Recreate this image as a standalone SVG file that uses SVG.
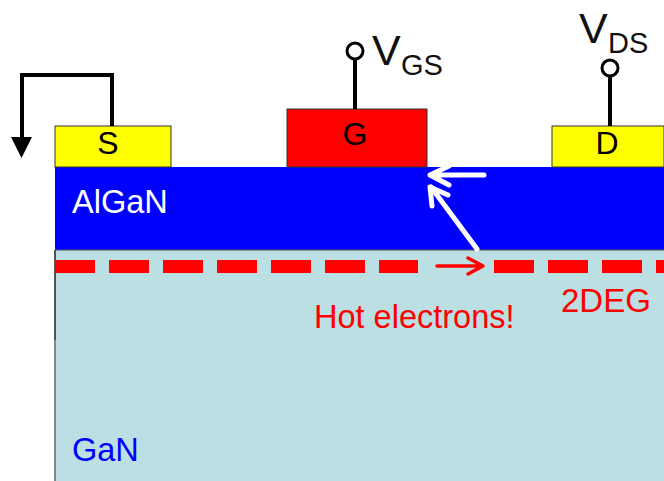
<svg xmlns="http://www.w3.org/2000/svg" width="664" height="481" viewBox="0 0 664 481">
<style>
text{font-family:"Liberation Sans",Arial,sans-serif}
.wire{fill:none;stroke:#000;stroke-width:4}
.term{fill:#fff;stroke:#000;stroke-width:3}
.layer{stroke:none}
.contact{stroke:#333;stroke-width:1}
.dash{fill:#f00}
.hot{fill:none;stroke:#f00;stroke-width:3.5;stroke-linecap:round;stroke-linejoin:round}
.white{fill:none;stroke:#fff;stroke-width:5;stroke-linecap:round;stroke-linejoin:round}
</style>
<g id="gan">
<rect class="layer" x="55" y="250" width="609" height="231" fill="#bbdfe3"/>
<path d="M55 250V340" stroke="#222" stroke-width="1.500" fill="none"/>
<path d="M55 340V481" stroke="#666" stroke-width="1.500" fill="none"/>
<text x="72" y="461" font-size="32.500" fill="#00f">GaN</text>
</g>
<g id="algan">
<rect x="55" y="167" width="609" height="83" fill="#00f"/>
<path d="M55 250H664" stroke="#555" stroke-width="1.200"/>
<text x="72" y="213" font-size="32.500" fill="#fff">AlGaN</text>
</g>
<g id="source">
<rect class="contact" x="55" y="126" width="116" height="41" fill="#ff0"/>
<text x="108" y="154" font-size="32" text-anchor="middle">S</text>
</g>
<g id="gate">
<rect class="contact" x="287" y="109" width="140" height="58" fill="#f00"/>
<text x="355" y="145" font-size="32" text-anchor="middle">G</text>
</g>
<g id="drain">
<rect class="contact" x="552" y="126" width="112" height="41" fill="#ff0"/>
<text x="607" y="154" font-size="32" text-anchor="middle">D</text>
</g>
<g id="channel">
<rect class="dash" x="55" y="260" width="40" height="13"/>
<rect class="dash" x="109" y="260" width="40" height="13"/>
<rect class="dash" x="163" y="260" width="40" height="13"/>
<rect class="dash" x="217" y="260" width="40" height="13"/>
<rect class="dash" x="271" y="260" width="40" height="13"/>
<rect class="dash" x="325" y="260" width="40" height="13"/>
<rect class="dash" x="379" y="260" width="39" height="13"/>
<rect class="dash" x="494" y="260" width="40" height="13"/>
<rect class="dash" x="548" y="260" width="40" height="13"/>
<rect class="dash" x="602" y="260" width="40" height="13"/>
<rect class="dash" x="656" y="260" width="8" height="13"/>
</g>
<g id="connectors">
<path class="wire" d="M112 126V75H22V140"/>
<path d="M11 137H32L21.500 158Z" fill="#000"/>
<path class="wire" d="M355 109V58"/>
<circle class="term" cx="355" cy="51" r="8"/>
<path class="wire" d="M610 126V75"/>
<circle class="term" cx="610" cy="68" r="8"/>
<path class="hot" d="M437 266H482M468 258L483 266L468 274"/>
<path class="white" d="M484 175H430M449 166L430 175L449 185"/>
<path class="white" d="M477 249L431 187M432 206L430 187L448 195"/>
</g>
<g id="labels">
<text x="372" y="65" font-size="43" fill="#111">V</text>
<text x="401" y="75" font-size="29" fill="#111">GS</text>
<text x="579" y="43" font-size="43" fill="#111">V</text>
<text x="608" y="53" font-size="29" fill="#111">DS</text>
<text x="314" y="328" font-size="32.500" fill="#f00">Hot electrons!</text>
<text x="561" y="312" font-size="33" fill="#f00">2DEG</text>
</g>
</svg>
